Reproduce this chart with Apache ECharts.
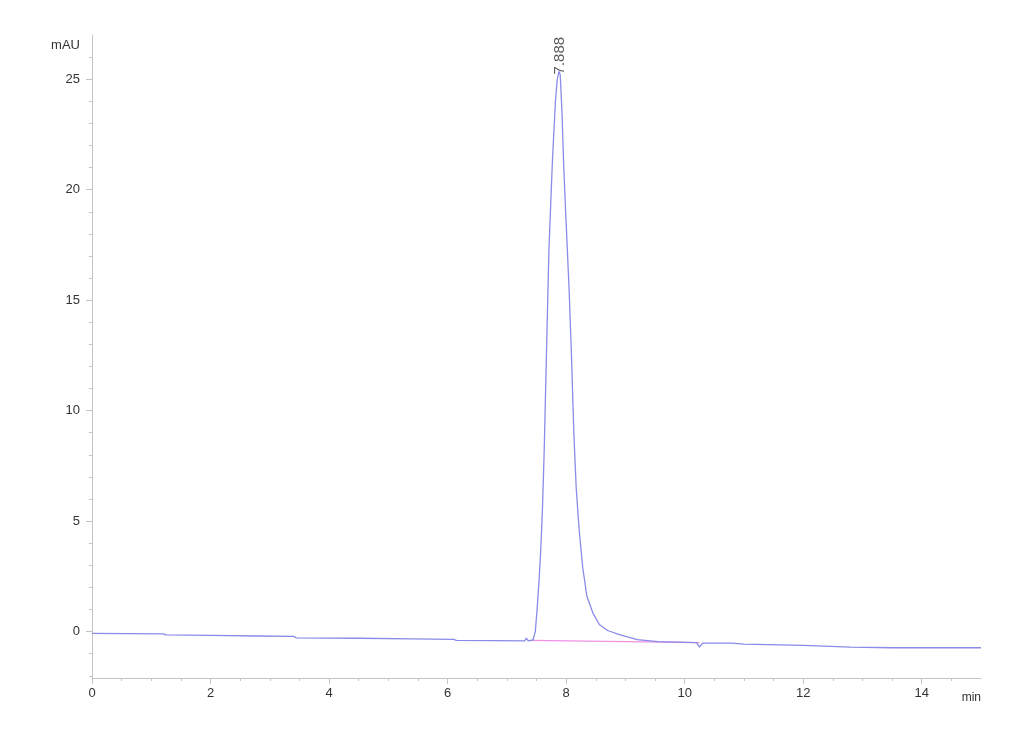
<!DOCTYPE html>
<html>
<head>
<meta charset="utf-8">
<script src="https://cdn.jsdelivr.net/npm/echarts@6/dist/echarts.min.js"></script>
<style>
html,body{margin:0;padding:0;background:#fff;}
#chart{width:1030px;height:755px;}
</style>
</head>
<body>
<div id="chart"></div>
<script>
// Chromatogram signal (time in min, absorbance in mAU)
const times = [0,0.6,1.2,1.25,2.0,2.8,3.4,3.45,4.5,5.4,6.1,6.15,6.8,7.3,7.33,7.36,7.44,7.48,7.51,7.54,7.57,7.60,7.63,7.67,7.71,7.77,7.82,7.85,7.88,7.90,7.93,7.96,8.0,8.05,8.09,8.13,8.17,8.22,8.28,8.35,8.45,8.56,8.7,8.9,9.2,9.55,10.2,10.25,10.3,10.8,11.0,11.6,12.0,12.8,13.5,15];
const signal = [-0.08,-0.09,-0.1,-0.15,-0.17,-0.2,-0.22,-0.28,-0.3,-0.33,-0.35,-0.4,-0.41,-0.42,-0.3,-0.42,-0.38,0.0,1.0,2.2,3.6,5.5,8.2,12.8,17.3,21.4,24.0,25.0,25.35,25.2,23.5,21.0,18.5,15.5,12.5,9.0,6.5,4.6,2.9,1.6,0.85,0.32,0.05,-0.14,-0.36,-0.45,-0.5,-0.7,-0.52,-0.52,-0.57,-0.6,-0.62,-0.7,-0.73,-0.73];
// Integration baseline
const baseTimes = [7.42, 10.25];
const baseValues = [-0.4, -0.5];
// Peak annotation
const peakTimes = [7.888];
const peakHeights = [25.35];
const peakLabels = ['7.888'];
// Axis ticks/labels
const xLabelValues = [0,2,4,6,8,10,12,14];
const xMinorValues = [0.5,1,1.5,2.5,3,3.5,4.5,5,5.5,6.5,7,7.5,8.5,9,9.5,10.5,11,11.5,12.5,13,13.5,14.5];
const yLabelValues = [0,5,10,15,20,25];
const yMinorValues = [-2,-1,1,2,3,4,6,7,8,9,11,12,13,14,16,17,18,19,21,22,23,24,26];
const xName = 'min';
const yName = 'mAU';

const FONT = 'Liberation Sans, Arial, sans-serif';
const AX = '#c4c4c4';
const TXT = '#333';

const chart = echarts.init(document.getElementById('chart'));
const xMin = 0, xMax = 15, yMin = -2.1, yMax = 27;

chart.setOption({
  animation: false,
  backgroundColor: '#fff',
  grid: {left: 92, right: 49, top: 35, bottom: 77},
  xAxis: [{
    type: 'value', min: xMin, max: xMax, position: 'bottom',
    name: xName, nameLocation: 'end', nameGap: 0,
    nameTextStyle: {fontFamily: FONT, fontSize: 12, color: TXT, align: 'right', verticalAlign: 'top', padding: [14, 0, 0, 0]},
    axisLine: {show: true, onZero: false, lineStyle: {color: AX, width: 1}},
    axisTick: {show: true, length: 6, lineStyle: {color: AX}, customValues: xLabelValues},
    axisLabel: {customValues: xLabelValues, fontFamily: FONT, fontSize: 13, color: TXT, margin: 9},
    splitLine: {show: false}
  }, {
    type: 'value', min: xMin, max: xMax, position: 'bottom', offset: 0,
    axisLine: {show: false, onZero: false},
    axisTick: {show: true, length: 3, lineStyle: {color: AX}, customValues: xMinorValues},
    axisLabel: {show: false},
    splitLine: {show: false}
  }],
  yAxis: [{
    type: 'value', min: yMin, max: yMax, position: 'left',
    name: yName, nameLocation: 'end', nameGap: -10,
    nameTextStyle: {fontFamily: FONT, fontSize: 13, color: TXT, align: 'right', verticalAlign: 'middle', padding: [0, 12, 0, 0]},
    axisLine: {show: true, onZero: false, lineStyle: {color: AX, width: 1}},
    axisTick: {show: true, length: 6, lineStyle: {color: AX}, customValues: yLabelValues},
    axisLabel: {customValues: yLabelValues, fontFamily: FONT, fontSize: 13, color: TXT, margin: 12},
    splitLine: {show: false}
  }, {
    type: 'value', min: yMin, max: yMax, position: 'left', offset: 0,
    axisLine: {show: false, onZero: false},
    axisTick: {show: true, length: 3, lineStyle: {color: AX}, customValues: yMinorValues},
    axisLabel: {show: false},
    splitLine: {show: false}
  }],
  series: [{
    type: 'line', xAxisIndex: 0, yAxisIndex: 0,
    data: baseTimes.map((t, i) => [t, baseValues[i]]),
    showSymbol: false, symbol: 'none',
    lineStyle: {color: '#f090e4', width: 1.3},
    z: 2
  }, {
    type: 'line', xAxisIndex: 0, yAxisIndex: 0,
    data: times.map((t, i) => [t, signal[i]]),
    showSymbol: false, symbol: 'none',
    lineStyle: {color: '#8a8ae8', width: 1.3},
    z: 3
  }, {
    type: 'scatter', xAxisIndex: 0, yAxisIndex: 0,
    data: peakTimes.map((t, i) => [t, peakHeights[i]]),
    symbolSize: 0,
    label: {
      show: true, position: 'top', distance: -3, rotate: 90,
      align: 'left', verticalAlign: 'middle',
      formatter: (p) => peakLabels[p.dataIndex],
      fontFamily: FONT, fontSize: 15, color: '#333'
    },
    z: 4
  }]
});
</script>
</body>
</html>
